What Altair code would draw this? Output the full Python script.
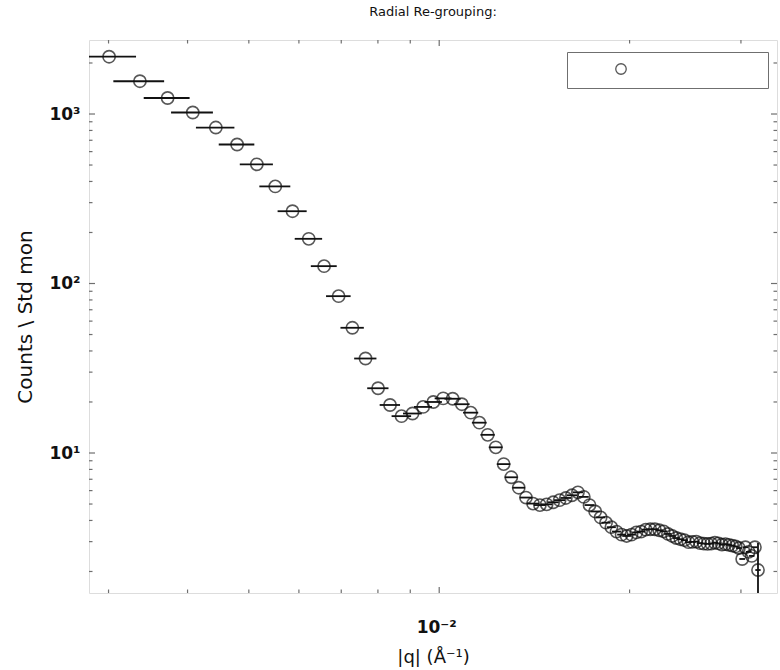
import altair as alt
import pandas as pd

TITLE = "Radial Re-grouping:"
X_TITLE = "|q| (Å⁻¹)"
Y_TITLE = "Counts \\ Std mon"
SERIES = "data"

# Radially re-grouped bins: momentum transfer |q| (1/Å) and normalised counts
q_values = [
    0.003006, 0.003363, 0.003720, 0.004077, 0.004434, 0.004791, 0.005148, 0.005505, 0.005862, 0.006219,
    0.006576, 0.006933, 0.007290, 0.007647, 0.008004, 0.008361, 0.008718, 0.009075, 0.009432, 0.009789,
    0.010146, 0.010503, 0.010860, 0.011217, 0.011574, 0.011931, 0.012288, 0.012645, 0.013002, 0.013359,
    0.013716, 0.014073, 0.014430, 0.014787, 0.015144, 0.015501, 0.015858, 0.016215, 0.016572, 0.016929,
    0.017286, 0.017643, 0.018000, 0.018357, 0.018714, 0.019071, 0.019428, 0.019785, 0.020142, 0.020499,
    0.020856, 0.021213, 0.021570, 0.021927, 0.022284, 0.022641, 0.022998, 0.023355, 0.023712, 0.024069,
    0.024426, 0.024783, 0.025140, 0.025497, 0.025854, 0.026211, 0.026568, 0.026925, 0.027282, 0.027639,
    0.027996, 0.028353, 0.028710, 0.029067, 0.029424, 0.029781, 0.030138, 0.030495, 0.030852, 0.031209,
    0.031566, 0.031923,
]
counts = [
    2178, 1561, 1243, 1021, 832, 661, 505, 374, 267, 183.5,
    126.6, 84.2, 54.8, 36.1, 24.1, 19.2, 16.5, 17.1, 18.7, 20.0,
    21.0, 20.9, 19.4, 17.3, 15.1, 12.8, 10.8, 8.60, 7.19, 6.24,
    5.46, 5.03, 4.93, 4.98, 5.12, 5.27, 5.43, 5.63, 5.86, 5.51,
    4.93, 4.52, 4.17, 3.88, 3.65, 3.44, 3.30, 3.24, 3.30, 3.40,
    3.44, 3.53, 3.55, 3.55, 3.50, 3.45, 3.33, 3.24, 3.15, 3.10,
    3.06, 2.98, 2.99, 3.00, 2.94, 2.92, 2.91, 2.92, 2.96, 2.93,
    2.88, 2.90, 2.87, 2.84, 2.81, 2.75, 2.37, 2.78, 2.61, 2.47,
    2.78, 2.04,
]
# q resolution (half width of the horizontal bars)
q_half_width = 0.00031
# vertical error bars: bin index -> count uncertainty
count_errors = {81: 0.90}

# axis ranges and tick positions
x_domain = [0.002794, 0.03421]
y_domain = [1.493, 2733]
x_major = [0.01]
x_minor = [0.003, 0.004, 0.005, 0.006, 0.007, 0.008, 0.009, 0.02, 0.03]
y_major = [10, 100, 1000]
y_minor = [2, 3, 4, 5, 6, 7, 8, 9, 20, 30, 40, 50, 60, 70, 80, 90,
           200, 300, 400, 500, 600, 700, 800, 900, 2000]

W, H = 688, 553
AXIS = "#6f6f6f"
INK = "#111111"
FONT = "DejaVu Sans"

df = pd.DataFrame({"q": q_values, "counts": counts})
df["q_lo"] = df["q"] - q_half_width
df["q_hi"] = df["q"] + q_half_width
df["series"] = SERIES

err_df = pd.DataFrame({
    "q": [q_values[i] for i in count_errors],
    "counts": [counts[i] - e for i, e in count_errors.items()],
    "hi": [counts[i] + e for i, e in count_errors.items()],
})

xs = alt.Scale(type="log", domain=x_domain, nice=False, zero=False)
ys = alt.Scale(type="log", domain=y_domain, nice=False, zero=False)

y_label_expr = "datum.value >= 999 ? '10³' : datum.value >= 99 ? '10²' : '10¹'"

x_axis = alt.Axis(values=x_major, labelExpr="'10⁻²'", ticks=False, domain=False,
                  grid=False, offset=22, labelPadding=4, labelOffset=-3, titlePadding=13,
                  labelFont=FONT, labelFontSize=17, labelFontWeight="bold", labelColor=INK,
                  titleFont=FONT, titleFontSize=18, titleFontWeight="normal", titleColor=INK)
y_axis = alt.Axis(values=y_major, labelExpr=y_label_expr, ticks=False, domain=False,
                  grid=False, labelPadding=9, titlePadding=13,
                  labelFont=FONT, labelFontSize=17, labelFontWeight="bold", labelColor=INK,
                  titleFont=FONT, titleFontSize=20, titleFontWeight="normal", titleColor=INK)


def X(field):
    return alt.X(f"{field}:Q", scale=xs, title=X_TITLE, axis=x_axis)


def Y(field):
    return alt.Y(f"{field}:Q", scale=ys, title=Y_TITLE, axis=y_axis)


points = alt.Chart(df).mark_point(
    shape="circle", filled=False, size=150, strokeWidth=1.6
).encode(
    x=X("q"),
    y=Y("counts"),
    color=alt.Color("series:N", scale=alt.Scale(range=[INK]),
                    legend=alt.Legend(title=None, orient="none", legendX=478, legendY=12,
                                      padding=11, strokeColor=AXIS, fillColor="white",
                                      symbolOffset=37, labelOffset=130, labelExpr="''",
                                      symbolSize=110, symbolStrokeWidth=1.3, symbolType="circle")),
)

xbars = alt.Chart(df).mark_rule(color=INK, strokeWidth=1.8, clip=True).encode(
    x=X("q_lo"),
    x2="q_hi:Q",
    y=Y("counts"),
)

ybars = alt.Chart(err_df).mark_rule(color=INK, strokeWidth=1.8, clip=True).encode(
    x=X("q"),
    y=Y("counts"),
    y2="hi:Q",
)


def x_ticks(values, length):
    d = pd.DataFrame({"q": values})
    base = alt.Chart(d).mark_rule(color=AXIS, strokeWidth=1.2)
    bottom = base.encode(x=X("q"), y=alt.value(H), y2=alt.value(H - length))
    top = base.encode(x=X("q"), y=alt.value(0), y2=alt.value(length))
    return [bottom, top]


def y_ticks(values, length):
    d = pd.DataFrame({"counts": values})
    base = alt.Chart(d).mark_rule(color=AXIS, strokeWidth=1.2)
    left = base.encode(y=Y("counts"), x=alt.value(0), x2=alt.value(length))
    right = base.encode(y=Y("counts"), x=alt.value(W), x2=alt.value(W - length))
    return [left, right]


layers = ([xbars, ybars, points] +
          x_ticks(x_minor, 3.5) + x_ticks(x_major, 6) +
          y_ticks(y_minor, 3.5) + y_ticks(y_major, 6))

chart = alt.layer(*layers).properties(
    width=W,
    height=H,
    title=alt.TitleParams(TITLE, font=FONT, fontSize=13, fontWeight="normal",
                          color=INK, offset=20),
    padding={"left": 89, "top": 40, "right": 3, "bottom": 77},
    autosize=alt.AutoSizeParams(type="none"),
).configure_view(
    stroke=AXIS, strokeWidth=1.5
).configure(background="white")

chart.save("out.html", embed_options={"renderer": "svg", "actions": False})
